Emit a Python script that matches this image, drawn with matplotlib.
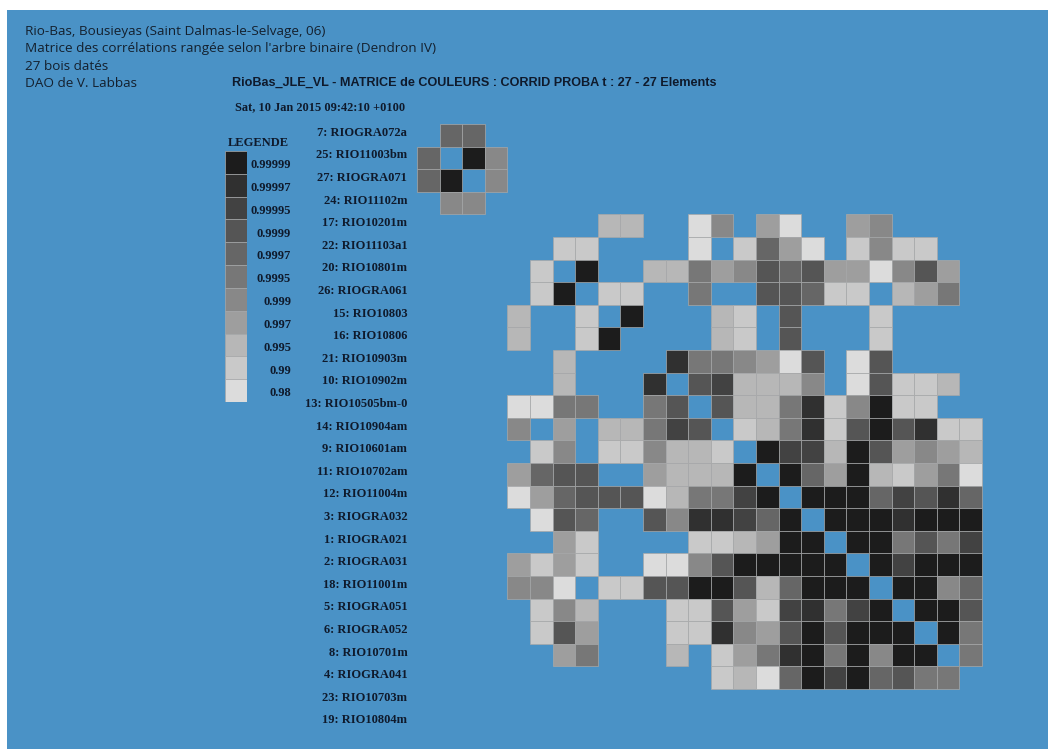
import matplotlib
matplotlib.use('Agg')
import matplotlib.pyplot as plt
from matplotlib.patches import Rectangle
from matplotlib.transforms import ScaledTranslation

# legend classes, darkest first
levels = ['0.99999', '0.99997', '0.99995', '0.9999', '0.9997', '0.9995',
          '0.999', '0.997', '0.995', '0.99', '0.98']
level_codes = 'abcdefghijk'
level_colors = ['#1c1c1c', '#303030', '#424242', '#555555', '#666666', '#777777',
                '#888888', '#9e9e9e', '#b7b7b7', '#c9c9c9', '#dcdcdc']

# elements in dendrogram order
labels = ['7: RIOGRA072a', '25: RIO11003bm', '27: RIOGRA071', '24: RIO11102m',
          '17: RIO10201m', '22: RIO11103a1', '20: RIO10801m', '26: RIOGRA061',
          '15: RIO10803', '16: RIO10806', '21: RIO10903m', '10: RIO10902m',
          '13: RIO10505bm-0', '14: RIO10904am', '9: RIO10601am', '11: RIO10702am',
          '12: RIO11004m', '3: RIOGRA032', '1: RIOGRA021', '2: RIOGRA031',
          '18: RIO11001m', '5: RIOGRA051', '6: RIOGRA052', '8: RIO10701m',
          '4: RIOGRA041', '23: RIO10703m', '19: RIO10804m']

# upper triangle of the class matrix, '.' = below threshold
upper = [
    '.ee.. ..... ..... ..... ..... ..',
    '..ag. ..... ..... ..... ..... ..',
    '...g. ..... ..... ..... ..... ..',
    '..... ..... ..... ..... ..... ..',
    '..... ...ii ..kg. hk..h g.... ..',
    '..... .jj.. ..k.j ehk.j gjj.. ..',
    '..... ..a.. iifhg dedhh kgdh. ..',
    '..... ...jj ..f.. ddejj .ihf. ..',
    '..... ....a ...ij .d... j.... ..',
    '..... ..... ...ij .d... j.... ..',
    '..... ..... .bffg hkd.k d.... ..',
    '..... ..... ..dci iig.k djji. ..',
    '..... ..... ...di ifbjg ajj.. ..',
    '..... ..... ....j ifbjd adbjj ..',
    '..... ..... ..... accia dhghi ..',
    '..... ..... ..... .aeha ijhfk ..',
    '..... ..... ..... ..aaa ecdbe ..',
    '..... ..... ..... ...aa abaaa ..',
    '..... ..... ..... ....a afdfc ..',
    '..... ..... ..... ..... acaaa ..',
    '..... ..... ..... ..... .aage ..',
    '..... ..... ..... ..... ..aad ..',
    '..... ..... ..... ..... ...af ..',
    '..... ..... ..... ..... ....f ..',
    '..... ..... ..... ..... ..... ..',
    '..... ..... ..... ..... ..... ..',
    '..... ..... ..... ..... ..... ..',
]

header_lines = ['Rio-Bas, Bousieyas (Saint Dalmas-le-Selvage, 06)',
                "Matrice des corrélations rangée selon l'arbre binaire (Dendron IV)",
                '27 bois datés',
                'DAO de V. Labbas']
title = 'RioBas_JLE_VL - MATRICE de COULEURS : CORRID PROBA t : 27 - 27 Elements'
stamp = 'Sat, 10 Jan 2015 09:42:10 +0100'

BG = '#4a92c6'
TXT = '#0f1a2c'
W, H = 1048, 749

rows = [r.replace(' ', '') for r in upper]
n = len(labels)
code = [['.'] * n for _ in range(n)]
for i in range(n):
    for j in range(n):
        if rows[i][j] != '.':
            code[i][j] = rows[i][j]
            code[j][i] = rows[i][j]

fig = plt.figure(figsize=(W / 100, H / 100), dpi=100)
fig.patch.set_facecolor('white')
bg = fig.add_axes([7 / W, 0, 1 - 7 / W, 1 - 10 / H])
bg.set_facecolor(BG)
bg.set_xticks([])
bg.set_yticks([])
for s in bg.spines.values():
    s.set_visible(False)

# matrix
cell = 22.6
x0, y0 = 417, 124
ax = fig.add_axes([x0 / W, 1 - (y0 + n * cell) / H, n * cell / W, n * cell / H])
ax.patch.set_alpha(0)
for i in range(n):
    for j in range(n):
        c = code[i][j]
        if c == '.':
            continue
        ax.add_patch(Rectangle((j, i), 1, 1, facecolor=level_colors[level_codes.index(c)],
                               edgecolor='#a8a8a8', linewidth=0.5))
ax.set_xlim(0, n)
ax.set_ylim(n, 0)
ax.set_xticks([])
ax.set_yticks([i + 0.5 for i in range(n)])
ax.set_yticklabels(labels, fontfamily='Liberation Serif', fontweight='bold',
                   fontsize=9, color=TXT)
ax.tick_params(axis='y', length=0, pad=7)
shift = ScaledTranslation(0, 4 / 100, fig.dpi_scale_trans)
for t in ax.get_yticklabels():
    t.set_transform(t.get_transform() + shift)
for s in ax.spines.values():
    s.set_visible(False)

# legend
nl = len(levels)
lg = fig.add_axes([225 / W, 1 - 402 / H, 22 / W, 251 / H])
lg.patch.set_alpha(0)
for k, col in enumerate(level_colors):
    lg.add_patch(Rectangle((0, k), 1, 1, facecolor=col, edgecolor='#a8a8a8', linewidth=0.5))
    lg.text(3.0, k + 0.62, levels[k], ha='right', va='center', fontfamily='Liberation Serif',
            fontweight='bold', fontsize=9, color=TXT)
lg.set_xlim(0, 1)
lg.set_ylim(nl, 0)
lg.axis('off')
fig.text(258 / W, 1 - 143 / H, 'LEGENDE', ha='center', va='center', fontfamily='Liberation Serif',
         fontweight='bold', fontsize=9, color=TXT)

# texts
for k, line in enumerate(header_lines):
    fig.text(25 / W, 1 - (31 + 17.5 * k) / H, line, ha='left', va='center',
             fontfamily='Open Sans', fontsize=9.7, color='#14202e')
fig.text(232 / W, 1 - 83 / H, title, ha='left', va='center', fontfamily='Liberation Sans',
         fontweight='bold', fontsize=9.05, color=TXT)
fig.text(235 / W, 1 - 107 / H, stamp, ha='left', va='center', fontfamily='Liberation Serif',
         fontweight='bold', fontsize=8.9, color=TXT)

fig.savefig('out.png', dpi=100, facecolor='white')
